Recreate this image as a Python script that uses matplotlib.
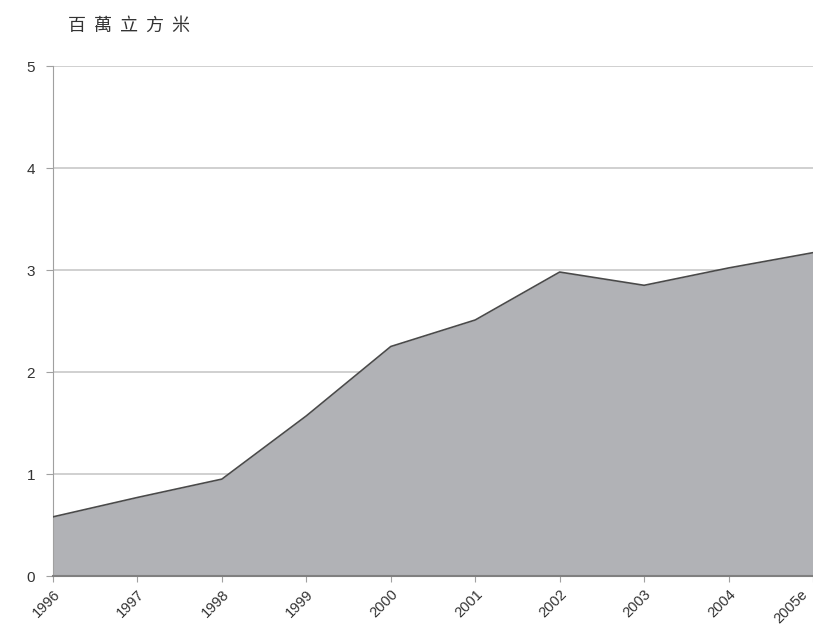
import matplotlib.pyplot as plt

plt.rcParams['font.family'] = ['Noto Sans CJK TC', 'DejaVu Sans']

years = ['1996', '1997', '1998', '1999', '2000', '2001', '2002', '2003', '2004', '2005e']
volume = [0.58, 0.77, 0.95, 1.57, 2.25, 2.51, 2.98, 2.85, 3.02, 3.17]
y_ticks = [0, 1, 2, 3, 4, 5]
unit_label = '百萬立方米'

fig = plt.figure(figsize=(8.13, 6.41), dpi=100)
ax = fig.add_axes([53 / 813, 65 / 641, 760 / 813, 510 / 641])

x = list(range(len(years)))
ax.fill_between(x, volume, 0, color='#b1b2b6', linewidth=0, zorder=2)
ax.plot(x, volume, color='#4a4a4a', linewidth=1.2, zorder=3)

ax.set_xlim(0, 9)
ax.set_ylim(0, 5)
ax.set_yticks(y_ticks)
ax.set_xticks(x)
label_kw = dict(rotation=45, ha='right', rotation_mode='anchor',
                fontsize=10.5, color='#333333', family='Liberation Sans')
# last label sits on the figure edge; draw it separately, nudged inwards
ax.set_xticklabels(years[:-1] + [''], **label_kw)
ax.annotate(years[-1], xy=(x[-1], 0), xycoords=('data', 'axes fraction'),
            xytext=(-9, -8), textcoords='offset points', va='top', **label_kw)
ax.set_yticklabels([str(v) for v in y_ticks], fontsize=11, color='#333333',
                   family='Liberation Sans')

ax.grid(axis='y', color='#c8c8c8', linewidth=1.2, zorder=1)
ax.set_axisbelow(True)
for side in ['top', 'right']:
    ax.spines[side].set_visible(False)
ax.spines['left'].set_color('#a0a0a0')
ax.spines['bottom'].set_color('#808080')
ax.spines['bottom'].set_linewidth(1.5)
ax.tick_params(axis='y', length=5, color='#a0a0a0', pad=8)
ax.tick_params(axis='x', length=4, color='#a0a0a0', pad=4)

fig.text(68 / 813, 1 - 26 / 641, '  '.join(unit_label), fontsize=13, color='#333333',
         va='center', ha='left')

fig.savefig('out.png', dpi=100)
